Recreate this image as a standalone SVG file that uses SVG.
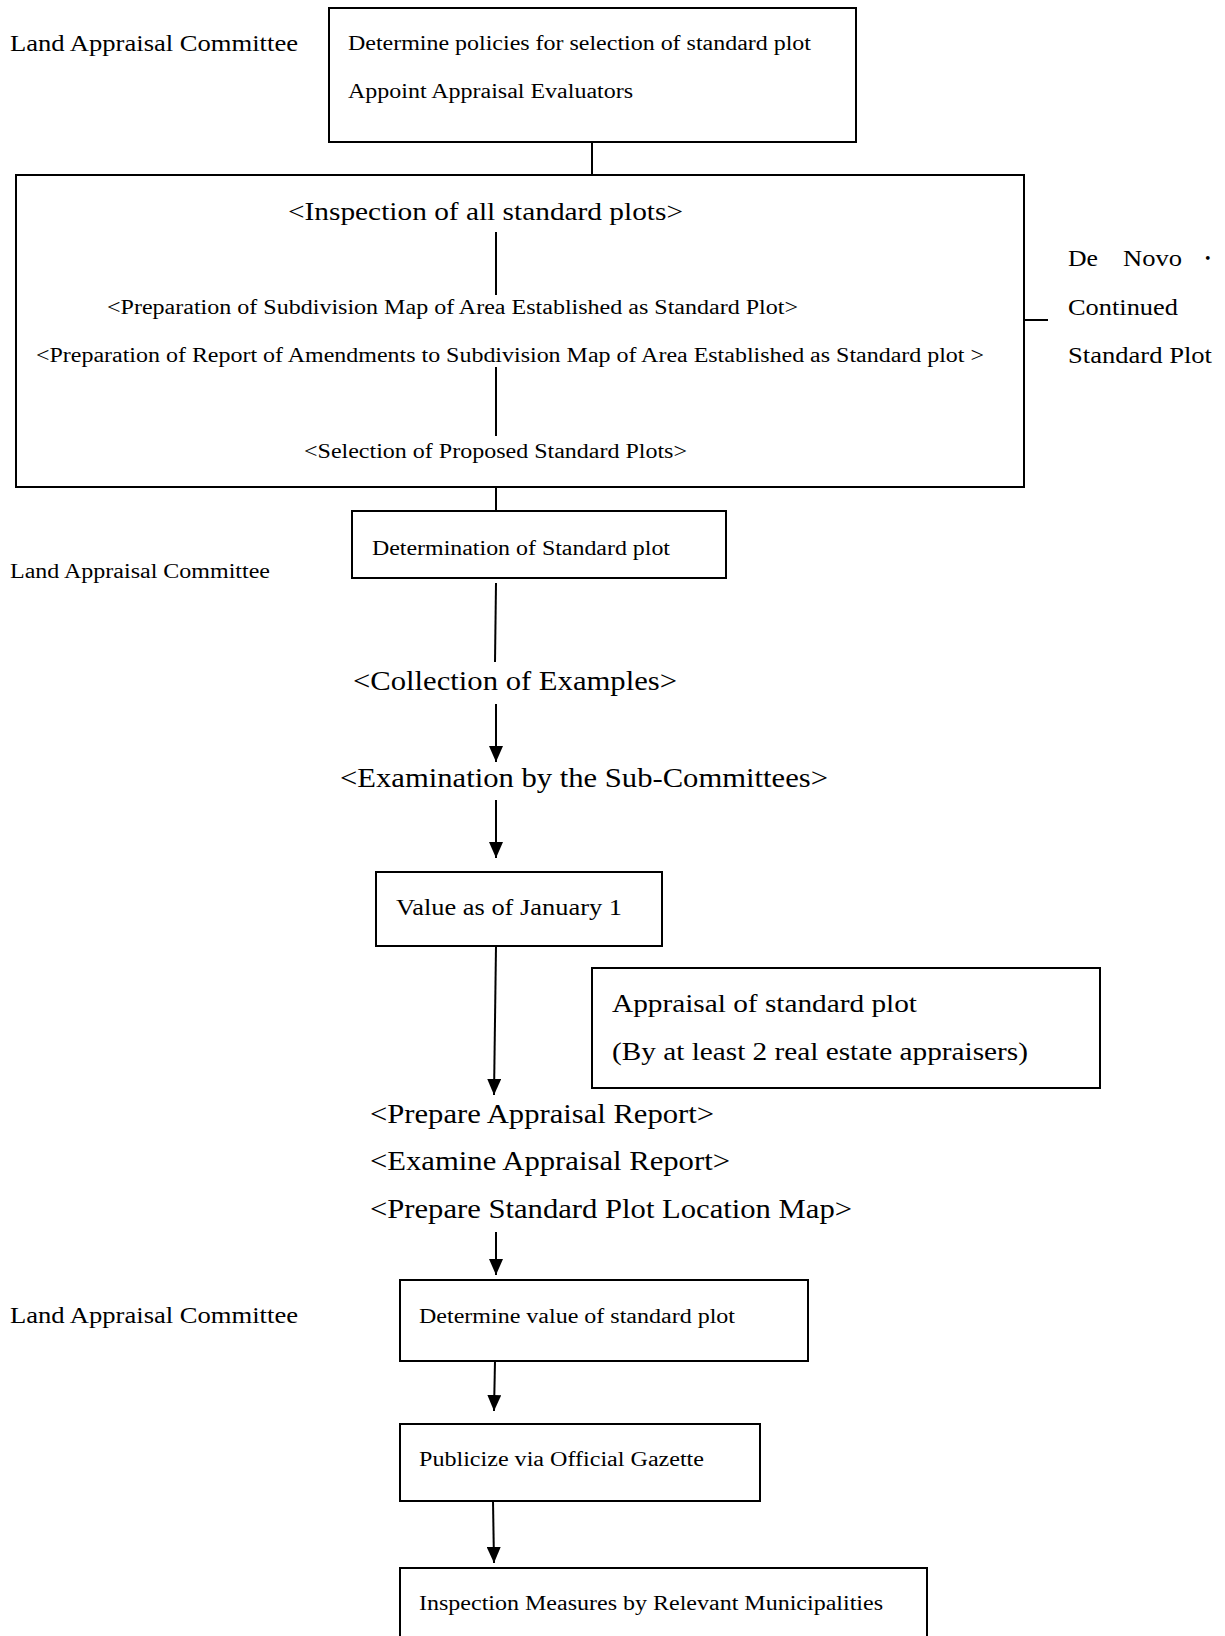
<svg xmlns="http://www.w3.org/2000/svg" width="1225" height="1636" viewBox="0 0 1225 1636">
<style>
text{font-family:"Liberation Serif","Times New Roman",serif;fill:#000}
.box{fill:#fff;stroke:#000;stroke-width:2}
.ln{stroke:#000;stroke-width:2;fill:none}
.s18{font-size:20px}
.s21{font-size:23px}
.s23{font-size:25px}
.s26{font-size:28px}
</style>
<defs>
<marker id="arr" viewBox="0 0 16 14" refX="16" refY="7" markerWidth="16" markerHeight="14" markerUnits="userSpaceOnUse" orient="auto">
<path d="M0,0 L16,7 L0,14 Z" fill="#000"/>
</marker>
</defs>
<rect width="1225" height="1636" fill="#fff"/>

<g id="labels">
<text class="s21" x="10" y="51" textLength="288" lengthAdjust="spacingAndGlyphs">Land Appraisal Committee</text>
<text class="s18" x="10" y="578" textLength="260" lengthAdjust="spacingAndGlyphs">Land Appraisal Committee</text>
<text class="s21" x="10" y="1323" textLength="288" lengthAdjust="spacingAndGlyphs">Land Appraisal Committee</text>
</g>

<g id="n-policies">
<rect class="box" x="329" y="8" width="527" height="134"/>
<text class="s18" x="348" y="50" textLength="463" lengthAdjust="spacingAndGlyphs">Determine policies for selection of standard plot</text>
<text class="s18" x="348" y="98" textLength="285" lengthAdjust="spacingAndGlyphs">Appoint Appraisal Evaluators</text>
</g>

<g id="n-inspection">
<rect class="box" x="16" y="175" width="1008" height="312"/>
<text class="s23" x="288" y="220" textLength="395" lengthAdjust="spacingAndGlyphs">&lt;Inspection of all standard plots&gt;</text>
<text class="s18" x="107" y="314" textLength="691" lengthAdjust="spacingAndGlyphs">&lt;Preparation of Subdivision Map of Area Established as Standard Plot&gt;</text>
<text class="s18" x="36" y="362" textLength="948" lengthAdjust="spacingAndGlyphs">&lt;Preparation of Report of Amendments to Subdivision Map of Area Established as Standard plot &gt;</text>
<text class="s18" x="304" y="458" textLength="383" lengthAdjust="spacingAndGlyphs">&lt;Selection of Proposed Standard Plots&gt;</text>
</g>

<g id="n-denovo">
<text class="s21" x="1068" y="266" textLength="30" lengthAdjust="spacingAndGlyphs">De</text>
<text class="s21" x="1123" y="266" textLength="59" lengthAdjust="spacingAndGlyphs">Novo</text>
<text class="s21" x="1196" y="266">・</text>
<text class="s21" x="1068" y="315" textLength="110" lengthAdjust="spacingAndGlyphs">Continued</text>
<text class="s21" x="1068" y="363" textLength="144" lengthAdjust="spacingAndGlyphs">Standard Plot</text>
</g>

<g id="n-determination">
<rect class="box" x="352" y="511" width="374" height="67"/>
<text class="s18" x="372" y="555" textLength="298" lengthAdjust="spacingAndGlyphs">Determination of Standard plot</text>
</g>

<g id="n-collection">
<text class="s26" x="353" y="690" textLength="324" lengthAdjust="spacingAndGlyphs">&lt;Collection of Examples&gt;</text>
</g>
<g id="n-examination">
<text class="s26" x="340" y="787" textLength="488" lengthAdjust="spacingAndGlyphs">&lt;Examination by the Sub-Committees&gt;</text>
</g>

<g id="n-value">
<rect class="box" x="376" y="872" width="286" height="74"/>
<text class="s21" x="396" y="915" textLength="226" lengthAdjust="spacingAndGlyphs">Value as of January 1</text>
</g>

<g id="n-appraisal">
<rect class="box" x="592" y="968" width="508" height="120"/>
<text class="s23" x="612" y="1012" textLength="305" lengthAdjust="spacingAndGlyphs">Appraisal of standard plot</text>
<text class="s23" x="612" y="1060" textLength="416" lengthAdjust="spacingAndGlyphs">(By at least 2 real estate appraisers)</text>
</g>

<g id="n-reports">
<text class="s26" x="370" y="1123" textLength="344" lengthAdjust="spacingAndGlyphs">&lt;Prepare Appraisal Report&gt;</text>
<text class="s26" x="370" y="1170" textLength="360" lengthAdjust="spacingAndGlyphs">&lt;Examine Appraisal Report&gt;</text>
<text class="s26" x="370" y="1218" textLength="482" lengthAdjust="spacingAndGlyphs">&lt;Prepare Standard Plot Location Map&gt;</text>
</g>

<g id="n-determine-value">
<rect class="box" x="400" y="1280" width="408" height="81"/>
<text class="s18" x="419" y="1323" textLength="316" lengthAdjust="spacingAndGlyphs">Determine value of standard plot</text>
</g>

<g id="n-gazette">
<rect class="box" x="400" y="1424" width="360" height="77"/>
<text class="s18" x="419" y="1466" textLength="285" lengthAdjust="spacingAndGlyphs">Publicize via Official Gazette</text>
</g>

<g id="n-municipalities">
<rect class="box" x="400" y="1568" width="527" height="80"/>
<text class="s18" x="419" y="1610" textLength="464" lengthAdjust="spacingAndGlyphs">Inspection Measures by Relevant Municipalities</text>
</g>

<g id="connectors">
<line class="ln" x1="592" y1="142" x2="592" y2="175"/>
<line class="ln" x1="496" y1="232" x2="496" y2="295"/>
<line class="ln" x1="496" y1="367" x2="496" y2="436"/>
<line class="ln" x1="496" y1="487" x2="496" y2="511"/>
<line class="ln" x1="1024" y1="320" x2="1048" y2="320"/>
<line class="ln" x1="496" y1="583" x2="495" y2="662"/>
<line class="ln" x1="496" y1="704" x2="496" y2="762" marker-end="url(#arr)"/>
<line class="ln" x1="496" y1="800" x2="496" y2="858" marker-end="url(#arr)"/>
<line class="ln" x1="496" y1="946" x2="494" y2="1095" marker-end="url(#arr)"/>
<line class="ln" x1="496" y1="1232" x2="496" y2="1275" marker-end="url(#arr)"/>
<line class="ln" x1="495" y1="1361" x2="494" y2="1411" marker-end="url(#arr)"/>
<line class="ln" x1="493" y1="1501" x2="494" y2="1563" marker-end="url(#arr)"/>
</g>
</svg>
